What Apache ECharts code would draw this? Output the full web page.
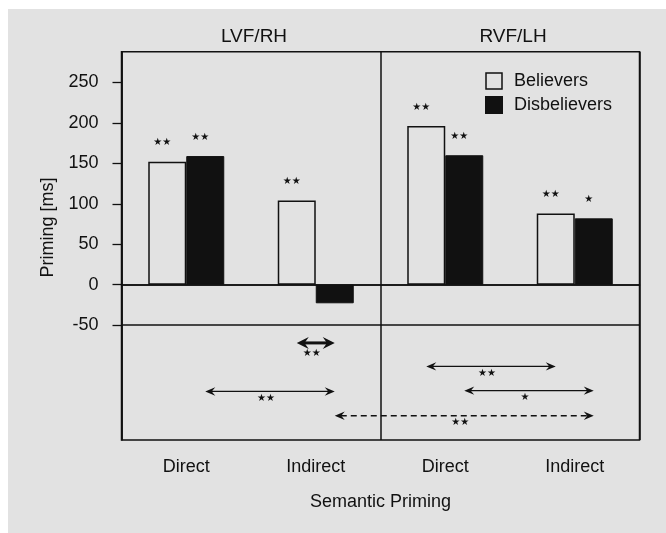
<!DOCTYPE html>
<html>
<head>
<meta charset="utf-8">
<script src="https://cdn.jsdelivr.net/npm/echarts@6/dist/echarts.min.js"></script>
<style>
  html, body { margin: 0; padding: 0; background: #fff; }
  #main { width: 666px; height: 533px; }
</style>
</head>
<body>
<div id="main"></div>
<script>
// data
var categories = ['LVF/RH Direct', 'LVF/RH Indirect', 'RVF/LH Direct', 'RVF/LH Indirect'];
var tickLabels = ['Direct', 'Indirect', 'Direct', 'Indirect'];
var panelTitles = ['LVF/RH', 'RVF/LH'];
var seriesNames = ['Believers', 'Disbelievers'];
var believers = [152, 104, 196, 88];
var disbelievers = [159, -23, 160, 82];
var believersSig = ['**', '**', '**', '**'];
var disbelieversSig = ['**', '', '**', '*'];
var yTicks = [-50, 0, 50, 100, 150, 200, 250];

// comparisons between bars: [category, group (0 = believers, 1 = disbelievers)]
var compFrom = [[1, 0], [0, 1], [2, 0], [2, 1], [1, 1]];
var compTo = [[1, 1], [1, 1], [3, 0], [3, 1], [3, 1]];
var compLevel = [-72, -132, -101, -131, -162];
var compSig = ['**', '**', '**', '*', '**'];

var BG = '#e2e2e2';
var INK = '#111';
var FONT = '"Liberation Sans", Arial, sans-serif';
var barWidth = 38;

// arrow look per comparison (first one is heavy, last one dashed)
var arrowStyle = {
    0: { lineWidth: 3, headLength: 12, headWidth: 6, labelGap: 10 },
    4: { lineDash: [6, 4] }
};

function stars(s) {
    return s.replace(/\*/g, '\u2605');
}

var compData = compFrom.map(function (f, i) {
    return [f[0], f[1], compTo[i][0], compTo[i][1], compLevel[i]];
});

function renderArrow(params, api) {
    var i = params.dataIndex;
    var st = arrowStyle[i] || {};
    var half = barWidth / 2;
    var p1 = api.coord([api.value(0), api.value(4)]);
    var p2 = api.coord([api.value(2), api.value(4)]);
    var x1 = p1[0] + (api.value(1) ? half : -half);
    var x2 = p2[0] + (api.value(3) ? half : -half);
    var y = p1[1];
    var lw = st.lineWidth || 1.3;
    var hl = st.headLength || 10;
    var hw = st.headWidth || 4.2;
    return {
        type: 'group',
        children: [
            {
                type: 'line',
                shape: { x1: x1 + hl * 0.6, y1: y, x2: x2 - hl * 0.6, y2: y },
                style: { stroke: INK, lineWidth: lw, lineDash: st.lineDash || null }
            },
            {
                type: 'polygon',
                shape: { points: [[x1, y], [x1 + hl, y - hw], [x1 + hl * 0.65, y], [x1 + hl, y + hw]] },
                style: { fill: INK }
            },
            {
                type: 'polygon',
                shape: { points: [[x2, y], [x2 - hl, y - hw], [x2 - hl * 0.65, y], [x2 - hl, y + hw]] },
                style: { fill: INK }
            },
            {
                type: 'text',
                x: (x1 + x2) / 2 - 4,
                y: y + (st.labelGap || 7),
                style: {
                    text: stars(compSig[i]),
                    fill: INK,
                    fontSize: 10,
                    fontFamily: 'DejaVu Sans',
                    align: 'center',
                    verticalAlign: 'middle'
                }
            }
        ]
    };
}

var myChart = echarts.init(document.getElementById('main'));

var option = {
    animation: false,
    backgroundColor: '#fff',
    textStyle: { fontFamily: FONT },
    graphic: {
        elements: [
            {   // gray panel
                type: 'rect', left: 8, top: 9, z: -10, silent: true,
                shape: { width: 658, height: 524 },
                style: { fill: BG }
            },
            {
                type: 'text', x: 48.5, y: 227.5, rotation: Math.PI / 2,
                style: {
                    text: 'Priming [ms]', fill: INK, fontSize: 18, fontFamily: FONT,
                    align: 'center', verticalAlign: 'middle'
                }
            }
        ]
    },
    title: [
        { text: panelTitles[0], left: 249, top: 22, textAlign: 'center',
          textStyle: { fontSize: 19, fontWeight: 'normal', color: INK, fontFamily: FONT } },
        { text: panelTitles[1], left: 508, top: 22, textAlign: 'center',
          textStyle: { fontSize: 19, fontWeight: 'normal', color: INK, fontFamily: FONT } }
    ],
    legend: {
        data: [
            { name: seriesNames[0], itemStyle: { color: BG, borderColor: INK, borderWidth: 1.5 } },
            { name: seriesNames[1], itemStyle: { color: INK } }
        ],
        orient: 'vertical',
        left: 485,
        top: 72,
        padding: 0,
        icon: 'rect',
        itemWidth: 16,
        itemHeight: 16,
        itemGap: 6,
        selectedMode: false,
        textStyle: { fontSize: 18, color: INK, fontFamily: FONT, padding: [0, 0, 0, 7] }
    },
    grid: {
        left: 121.5,
        right: 26.5,
        top: 51.7,
        bottom: 93,
        show: true,
        borderColor: INK,
        borderWidth: 1.5,
        backgroundColor: 'transparent'
    },
    xAxis: {
        type: 'category',
        data: categories,
        boundaryGap: true,
        axisLine: { lineStyle: { color: INK, width: 1.5 } },
        axisTick: { alignWithLabel: true, length: 9, lineStyle: { color: INK, width: 1.3 } },
        axisLabel: {
            formatter: function (v, i) { return tickLabels[i]; },
            fontSize: 18, color: INK, margin: 18, fontFamily: FONT
        },
        // boundaries 0, 2, 4: the middle one splits the two visual fields
        splitLine: {
            show: true,
            interval: 1,
            lineStyle: { color: INK, width: 1.5 }
        },
        name: 'Semantic Priming',
        nameLocation: 'middle',
        nameGap: 53,
        nameTextStyle: { fontSize: 18, color: INK, fontFamily: FONT }
    },
    yAxis: {
        type: 'value',
        min: -192,
        max: 288,
        axisLine: { show: true, lineStyle: { color: INK, width: 1.5 } },
        axisTick: { show: true, customValues: yTicks, length: 9, lineStyle: { color: INK, width: 1.3 } },
        axisLabel: { customValues: yTicks, fontSize: 18, color: INK, margin: 23, fontFamily: FONT },
        splitLine: { show: false }
    },
    series: [
        {
            name: seriesNames[0],
            type: 'bar',
            data: believers,
            barWidth: barWidth,
            barGap: '0%',
            itemStyle: { color: BG, borderColor: INK, borderWidth: 1.5 },
            label: {
                show: true, position: 'top', distance: 14, offset: [-5, 0],
                formatter: function (p) { return stars(believersSig[p.dataIndex]); },
                fontSize: 10, fontFamily: 'DejaVu Sans', color: INK
            },
            markLine: {
                silent: true,
                symbol: ['none', 'none'],
                label: { show: false },
                lineStyle: { color: INK, type: 'solid', width: 1.5 },
                data: [{ yAxis: 0 }, { yAxis: -50 }]
            }
        },
        {
            name: seriesNames[1],
            type: 'bar',
            data: disbelievers,
            barWidth: barWidth,
            barGap: '0%',
            itemStyle: { color: INK, borderColor: INK, borderWidth: 1 },
            label: {
                show: true, position: 'top', distance: 14, offset: [-5, 0],
                formatter: function (p) { return stars(disbelieversSig[p.dataIndex]); },
                fontSize: 10, fontFamily: 'DejaVu Sans', color: INK
            }
        },
        {
            name: 'comparisons',
            type: 'custom',
            data: compData,
            encode: { x: 0, y: 4 },
            renderItem: renderArrow,
            silent: true,
            z: 5
        }
    ]
};

myChart.setOption(option);
</script>
</body>
</html>
